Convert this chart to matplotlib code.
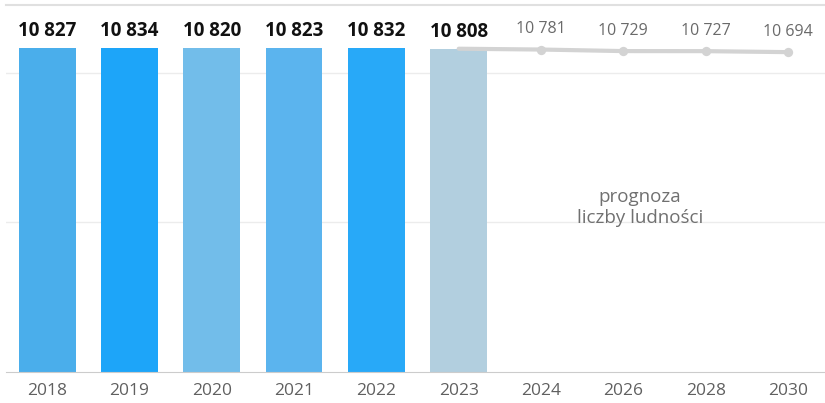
import matplotlib.pyplot as plt
import numpy as np

plt.rcParams['font.family'] = ['Open Sans', 'DejaVu Sans']

years = ["2018", "2019", "2020", "2021", "2022", "2023", "2024", "2026", "2028", "2030"]
actual = [10827, 10834, 10820, 10823, 10832, 10808]
forecast_years = ["2023", "2024", "2026", "2028", "2030"]
forecast = [10808, 10781, 10729, 10727, 10694]
bar_colors = ["#4aaeeb", "#1da5f9", "#72bdea", "#5bb4ee", "#28a9f8", "#b2cfdf"]


def fmt(v):
    return f"{v:,}".replace(",", " ")


def main():
    fig = plt.figure(figsize=(8.25, 4.03), dpi=100)
    ax = fig.add_axes([6 / 825, 1 - 372 / 403, 819 / 825, 367 / 403])

    x = np.arange(len(years))
    ax.set_xlim(-0.5, 9.45)
    ax.set_ylim(0, 12270)

    for v in [5000, 10000]:
        ax.axhline(v, color="#ececec", lw=1, zorder=0)
    ax.axhline(12270, color="#e0e0e0", lw=1.5, zorder=0, clip_on=False)

    ax.bar(x[:len(actual)], actual, width=0.69, color=bar_colors, zorder=2)
    for xi, v in zip(x, actual):
        ax.annotate(fmt(v), (xi, v), xytext=(0, 5), textcoords="offset points",
                    ha="center", va="bottom", fontsize=13.5, fontweight="bold", color="#111111")

    fx = [years.index(y) for y in forecast_years]
    ax.plot(fx, forecast, color="#d3d3d3", lw=3, zorder=3, solid_capstyle="round")
    ax.scatter(fx[1:], forecast[1:], s=45, color="#d3d3d3", zorder=4, linewidths=0)
    for xi, v in zip(fx[1:], forecast[1:]):
        ax.annotate(fmt(v), (xi, v), xytext=(0, 9), textcoords="offset points",
                    ha="center", va="bottom", fontsize=11.5, color="#6a6a6a")

    ax.text(7.2, 5500, "prognoza\nliczby ludności", ha="center", va="center",
            fontsize=13.5, color="#707070", linespacing=1.2)

    ax.set_xticks(x)
    ax.set_xticklabels(years, fontsize=12.5, color="#606060")
    ax.tick_params(axis="x", length=0, pad=8)
    ax.set_yticks([])
    for s in ["top", "right", "left"]:
        ax.spines[s].set_visible(False)
    ax.spines["bottom"].set_color("#cccccc")
    ax.spines["bottom"].set_linestyle((0, (1, 1)))

    fig.savefig("out.png", dpi=100)


if __name__ == "__main__":
    main()
